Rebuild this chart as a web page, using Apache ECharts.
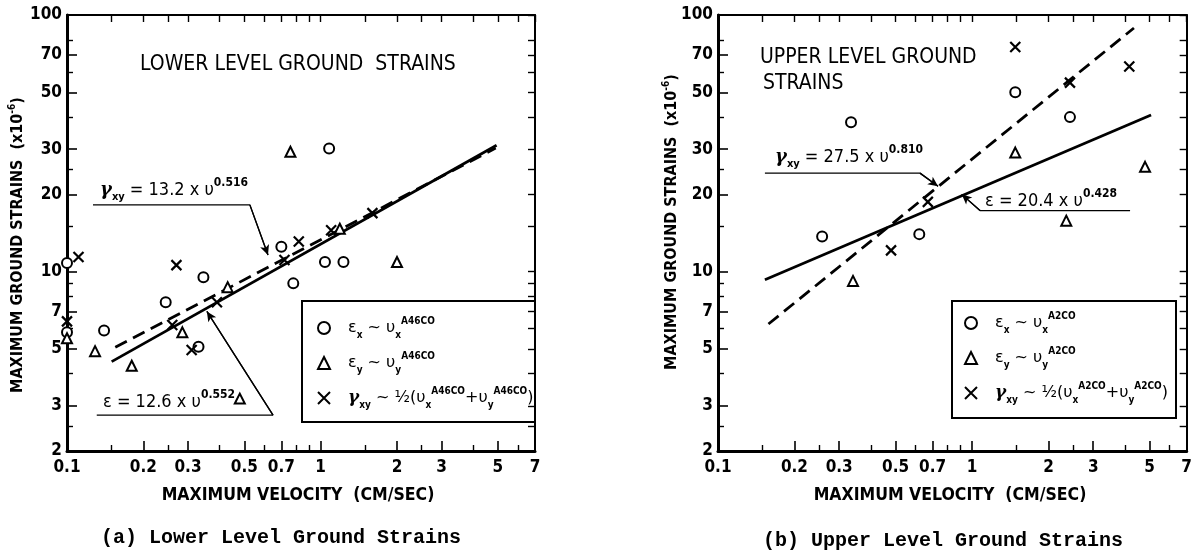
<!DOCTYPE html>
<html><head><meta charset="utf-8">
<script src="https://cdn.jsdelivr.net/npm/echarts@6/dist/echarts.min.js"></script>
<style>html,body{margin:0;padding:0;background:#fff}#c{width:1195px;height:556px}</style>
</head><body><div id="c"></div>
<script>
// ---------- tick values ----------
const xTickLabels = [0.1, 0.2, 0.3, 0.5, 0.7, 1, 2, 3, 5, 7];
const xMinorTicks = [0.15, 0.25, 0.4, 0.6, 0.8, 0.9, 1.5, 2.5, 4, 6];
const yTickLabels = [2, 3, 5, 7, 10, 20, 30, 50, 70, 100];
const yMinorTicks = [2.5, 4, 6, 8, 9, 15, 25, 40, 60, 80];

// ---------- (a) lower level ----------
const lowerEx  = [[0.1,10.8],[0.1,5.8],[0.14,5.9],[0.245,7.6],[0.33,5.1],[0.345,9.5],[0.70,12.5],[0.78,9.0],[1.04,10.9],[1.08,30.2],[1.23,10.9]];
const lowerEy  = [[0.1,5.5],[0.129,4.9],[0.18,4.3],[0.285,5.8],[0.43,8.7],[0.48,3.2],[0.76,29.3],[1.19,14.7],[2.0,10.9]];
const lowerGxy = [[0.1,6.4],[0.111,11.4],[0.26,6.2],[0.27,10.6],[0.31,4.95],[0.39,7.6],[0.72,11.1],[0.82,13.1],[1.1,14.5],[1.6,16.9]];
const lowerFitE = [[0.15,4.46],[4.94,31.1]];
const lowerFitG = [[0.155,5.07],[4.9,30.3]];
const lowerLeadG = [[0.1266,18.2],[0.526,18.2],[0.62,11.6]];
const lowerLeadE = [[0.131,2.76],[0.649,2.76],[0.356,7.0]];

// ---------- (b) upper level ----------
const upperEx  = [[0.257,13.7],[0.334,38.2],[0.62,14.0],[1.48,50],[2.43,40]];
const upperEy  = [[0.34,9.2],[1.48,29.1],[2.35,15.8],[4.8,25.6]];
const upperGxy = [[0.48,12.1],[0.67,18.7],[1.48,75],[2.43,54.5],[4.16,63]];
const upperFitE = [[0.153,9.3],[5.07,40.8]];
const upperFitG = [[0.158,6.25],[4.34,89]];
const upperLeadG = [[0.153,24.2],[0.624,24.2],[0.735,21.5]];
const upperLeadE = [[4.19,17.3],[1.075,17.3],[0.911,20.0]];

const COND = '"DejaVu Sans Condensed","Liberation Sans Narrow","DejaVu Sans",sans-serif';
const fmt = v => String(parseFloat(Number(v).toPrecision(6)));
const X_PATH = 'path://M0,0L10,10M10,0L0,10';

function xAxes(g) {
  const base = {gridIndex:g, type:'log', logBase:10, min:0.1, max:7, splitLine:{show:false}, axisPointer:{show:false}};
  return [
    Object.assign({}, base, {position:'bottom',
      axisLine:{show:true,onZero:false,lineStyle:{color:'#000',width:3}},
      axisTick:{show:true,inside:true,length:10,customValues:xTickLabels,lineStyle:{color:'#000',width:1.6}},
      axisLabel:{show:true,customValues:xTickLabels,formatter:fmt,color:'#000',fontFamily:COND,fontWeight:'bold',fontSize:17,margin:8}}),
    Object.assign({}, base, {position:'bottom',
      axisLine:{show:false,onZero:false},
      axisTick:{show:true,inside:true,length:6,customValues:xMinorTicks,lineStyle:{color:'#000',width:1.4}},
      axisLabel:{show:false}}),
    Object.assign({}, base, {position:'top',
      axisLine:{show:true,onZero:false,lineStyle:{color:'#000',width:2}},
      axisTick:{show:true,inside:true,length:7,customValues:xTickLabels.concat(xMinorTicks),lineStyle:{color:'#000',width:1.4}},
      axisLabel:{show:false}})
  ];
}
function yAxes(g) {
  const base = {gridIndex:g, type:'log', logBase:10, min:2, max:100, splitLine:{show:false}, axisPointer:{show:false}};
  return [
    Object.assign({}, base, {position:'left',
      axisLine:{show:true,onZero:false,lineStyle:{color:'#000',width:3}},
      axisTick:{show:true,inside:true,length:10,customValues:yTickLabels,lineStyle:{color:'#000',width:1.6}},
      axisLabel:{show:true,customValues:yTickLabels,formatter:fmt,color:'#000',fontFamily:COND,fontWeight:'bold',fontSize:17,margin:5}}),
    Object.assign({}, base, {position:'left',
      axisLine:{show:false,onZero:false},
      axisTick:{show:true,inside:true,length:6,customValues:yMinorTicks,lineStyle:{color:'#000',width:1.4}},
      axisLabel:{show:false}}),
    Object.assign({}, base, {position:'right',
      axisLine:{show:true,onZero:false,lineStyle:{color:'#000',width:2}},
      axisTick:{show:true,inside:true,length:7,customValues:yTickLabels.concat(yMinorTicks),lineStyle:{color:'#000',width:1.4}},
      axisLabel:{show:false}})
  ];
}

function scatter(name, data, ai, sym, size) {
  return {name, type:'scatter', xAxisIndex:ai, yAxisIndex:ai, data, clip:false,
    symbol:sym, symbolSize:size, z:5,
    itemStyle:{color:'#000', borderColor:'#000', borderWidth:2.2, opacity:1}};
}
function fit(data, ai, dashed) {
  return {type:'line', xAxisIndex:ai, yAxisIndex:ai, data, symbol:'none', silent:true, z:4,
    lineStyle:{color:'#000', width:2.8, type: dashed ? [13,7] : 'solid'}};
}
function leader(pts, ai) {
  return {type:'line', xAxisIndex:ai, yAxisIndex:ai, data:pts, symbol:'none', silent:true, z:3,
    lineStyle:{color:'#000', width:1.3},
    markLine:{silent:true, symbol:['none','arrow'], symbolSize:[7,10], label:{show:false},
      lineStyle:{color:'#000', width:1.3, type:'solid'}, animation:false,
      data:[[{coord:pts[1]},{coord:pts[2]}]]}};
}

const legendRich = {
  w:{width:13},
  b:{fontSize:16, fontFamily:'"DejaVu Sans",sans-serif', lineHeight:24, color:'#000'},
  g:{fontSize:17, fontFamily:'"DejaVu Serif",serif', fontStyle:'italic', fontWeight:'bold', lineHeight:24, color:'#000'},
  s:{fontSize:10, fontFamily:COND, fontWeight:'bold', lineHeight:10, verticalAlign:'bottom', color:'#000'},
  p:{fontSize:10, fontFamily:COND, fontWeight:'bold', lineHeight:10, verticalAlign:'top', color:'#000'}
};
function legendLabel(code) {
  return function(name) {
    if (name.indexOf('ex') === 0) return '{w|}{b|ε}{s|x}{b| ~ υ}{s|x}{p|' + code + '}';
    if (name.indexOf('ey') === 0) return '{w|}{b|ε}{s|y}{b| ~ υ}{s|y}{p|' + code + '}';
    return '{w|}{g|γ}{s|xy}{b| ~ ½(υ}{s|x}{p|' + code + '}{b|+υ}{s|y}{p|' + code + '}{b|)}';
  };
}
function legend(names, left, top, code) {
  return {data:names, orient:'vertical', left, top, padding:0, itemGap:11, itemWidth:12, itemHeight:12,
    symbolKeepAspect:true,
    selectedMode:false, formatter:legendLabel(code), textStyle:{rich:legendRich, color:'#000'}};
}

function rtext(x, y, text, rich, opts) {
  return Object.assign({type:'text', x, y, silent:true, style:Object.assign({text, rich, fill:'#000', verticalAlign:'middle', align:'left'}, opts||{})});
}
const annRich = {
  b:{fontSize:18, fontFamily:COND, lineHeight:26, color:'#000'},
  g:{fontSize:18, fontFamily:'"DejaVu Serif",serif', fontStyle:'italic', fontWeight:'bold', lineHeight:26, color:'#000'},
  s:{fontSize:11, fontFamily:COND, fontWeight:'bold', lineHeight:11, verticalAlign:'bottom', color:'#000'},
  p:{fontSize:12, fontFamily:COND, fontWeight:'bold', lineHeight:12, verticalAlign:'top', color:'#000'}
};
const nameRich = {
  n:{fontSize:16, fontFamily:COND, fontWeight:'bold', lineHeight:22, color:'#000'},
  p:{fontSize:10, fontFamily:COND, fontWeight:'bold', lineHeight:10, verticalAlign:'top', color:'#000'}
};

const option = {
  animation:false,
  backgroundColor:'#fff',
  grid:[{left:67, top:15, width:468, height:436}, {left:718, top:15, width:469, height:436}],
  xAxis: xAxes(0).concat(xAxes(1)),
  yAxis: yAxes(0).concat(yAxes(1)),
  legend:[legend(['exL','eyL','gL'], 317, 316, 'A46CO'), legend(['exU','eyU','gU'], 964, 311, 'A2CO')],
  series:[
    fit(lowerFitE, 0, false), fit(lowerFitG, 0, true),
    leader(lowerLeadG, 0), leader(lowerLeadE, 0),
    scatter('exL', lowerEx, 0, 'emptyCircle', 10),
    scatter('eyL', lowerEy, 0, 'emptyTriangle', 10),
    scatter('gL', lowerGxy, 0, X_PATH, 10),
    fit(upperFitE, 3, false), fit(upperFitG, 3, true),
    leader(upperLeadG, 3), leader(upperLeadE, 3),
    scatter('exU', upperEx, 3, 'emptyCircle', 10),
    scatter('eyU', upperEy, 3, 'emptyTriangle', 10),
    scatter('gU', upperGxy, 3, X_PATH, 10)
  ],
  graphic:[
    // legend frames
    {type:'rect', shape:{x:302, y:301, width:233, height:121}, style:{fill:'none', stroke:'#000', lineWidth:2}, silent:true},
    {type:'rect', shape:{x:952, y:301, width:224, height:117}, style:{fill:'none', stroke:'#000', lineWidth:2}, silent:true},
    // panel titles
    {type:'text', x:140, y:65, silent:true, style:{text:'LOWER LEVEL GROUND  STRAINS', fill:'#000', font:'21px ' + COND, verticalAlign:'middle'}},
    {type:'text', x:760, y:58, silent:true, style:{text:'UPPER LEVEL GROUND', fill:'#000', font:'21px ' + COND, verticalAlign:'middle'}},
    {type:'text', x:763, y:84, silent:true, style:{text:'STRAINS', fill:'#000', font:'21px ' + COND, verticalAlign:'middle'}},
    // fit annotations
    rtext(100, 190, '{g|γ}{s|xy}{b| = 13.2 x υ}{p|0.516}', annRich),
    rtext(103, 402, '{b|ε = 12.6 x υ}{p|0.552}', annRich),
    rtext(775, 157, '{g|γ}{s|xy}{b| = 27.5 x υ}{p|0.810}', annRich),
    rtext(985, 201, '{b|ε = 20.4 x υ}{p|0.428}', annRich),
    // axis names
    {type:'text', x:298, y:495, silent:true, style:{text:'MAXIMUM VELOCITY  (CM/SEC)', fill:'#000', font:'bold 17.5px ' + COND, align:'center', verticalAlign:'middle'}},
    {type:'text', x:950, y:495, silent:true, style:{text:'MAXIMUM VELOCITY  (CM/SEC)', fill:'#000', font:'bold 17.5px ' + COND, align:'center', verticalAlign:'middle'}},
    {type:'text', x:18, y:245, rotation:Math.PI/2, silent:true, style:{text:'{n|MAXIMUM GROUND STRAINS  (x10}{p|-6}{n|)}', rich:nameRich, align:'center', verticalAlign:'middle'}},
    {type:'text', x:672, y:222, rotation:Math.PI/2, silent:true, style:{text:'{n|MAXIMUM GROUND STRAINS  (x10}{p|-6}{n|)}', rich:nameRich, align:'center', verticalAlign:'middle'}},
    // captions
    {type:'text', x:281, y:538, silent:true, style:{text:'(a) Lower Level Ground Strains', fill:'#000', font:'bold 20px "Liberation Mono","DejaVu Sans Mono",monospace', align:'center', verticalAlign:'middle'}},
    {type:'text', x:943, y:541, silent:true, style:{text:'(b) Upper Level Ground Strains', fill:'#000', font:'bold 20px "Liberation Mono","DejaVu Sans Mono",monospace', align:'center', verticalAlign:'middle'}}
  ]
};

const chart = echarts.init(document.getElementById('c'), null, {renderer:'canvas'});
chart.setOption(option);
</script>
</body></html>
